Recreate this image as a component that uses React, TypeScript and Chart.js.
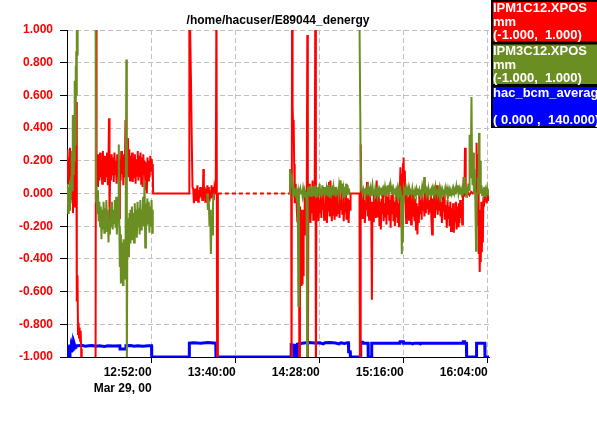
import React, { useEffect, useRef } from 'react';
import { Chart, registerables } from 'chart.js';

Chart.register(...registerables);

const chartTitle = '/home/hacuser/E89044_denergy';
const xTickValues = [52, 100, 148, 196, 244];
const xTickLabels = ['12:52:00', '13:40:00', '14:28:00', '15:16:00', '16:04:00'];
const xDateLabel = 'Mar 29, 00';
const yTickValues = [-1, -0.8, -0.6, -0.4, -0.2, 0, 0.2, 0.4, 0.6, 0.8, 1];
const legendNames = ['IPM1C12.XPOS', 'IPM3C12.XPOS', 'hac_bcm_average'];
const legendUnits = ['mm', 'mm', ''];
const legendRanges = ['(-1.000,  1.000)', '(-1.000,  1.000)', '( 0.000 ,  140.000)'];
const seriesColors = ['#ff0000', '#6b8e23', '#0000ff'];

// time in minutes after 12:00, value in mm
const ipm1Points: [number, number][] = [
  [3.6,0.12],[3.9,0.27],[4.3,0.06],[4.6,0.22],[5.0,0.1],[5.3,0.28],[5.7,0.05],[6.0,0.19],[6.4,-0.04],[6.7,0.24],[7.0,-0.12],[7.4,0.17],[7.7,-0.08],[8.0,0.21],[8.3,0.02],[8.6,0.15],[8.9,0.56],[9.1,0.1],
  [9.3,-0.66],[9.6,-0.5],[9.9,-0.86],[10.2,-0.79],[10.5,-0.88],[10.8,-0.82],[11.1,-0.9],[11.4,-0.84],[11.7,-0.95],[12.0,-1.3],
  [19.9,-1.3],[20.2,1.3],[20.5,0.15],
  [20.9,0.24],[21.3,0.04],[21.7,0.22],[22.1,0.08],[22.5,0.25],[22.9,0.1],[23.3,0.2],[23.7,0.06],[24.1,0.26],[24.5,0.12],[24.9,0.23],[25.3,0.07],[25.7,0.21],[26.1,0.1],[26.5,0.25],[26.9,0.05],[27.3,0.2],[27.6,0.46],[27.9,-0.15],[28.3,0.18],[28.7,0.08],[29.1,0.24],[29.5,0.11],[29.9,0.22],[30.3,0.07],[30.7,0.25],[31.1,0.12],[31.5,0.2],[31.9,0.06],[32.3,0.24],[32.7,0.1],[33.1,0.21],[33.4,-0.15],[33.8,0.2],[34.2,0.08],[34.6,0.26],[35.0,0.12],[35.4,0.22],[35.8,0.05],[36.2,0.24],[36.6,0.1],[37.0,0.45],[37.3,0.09],[37.6,0.33],[38.0,0.12],[38.4,0.34],[38.8,0.1],[39.2,0.27],[39.6,0.08],[40.0,0.23],[40.4,0.12],[40.8,0.25],[41.2,0.07],[41.6,0.22],[42.0,0.1],[42.4,0.24],[42.8,0.06],[43.2,0.21],[43.6,0.11],[44.0,0.26],[44.4,0.08],[44.8,0.23],[45.2,0.1],[45.6,0.25],[46.0,0.06],[46.4,0.22],[46.8,0.04],[47.2,0.24],[47.6,0.12],[48.0,0.2],[48.4,0.02],[48.8,0.19],[49.2,0.0],[49.6,0.22],[50.0,0.08],[50.4,0.2],[50.8,0.1],[51.2,0.23],[51.6,0.14],[52.0,0.21],[52.4,0.12],[52.6,0.18],
  [52.8,0.0],[73.4,0.0],
  [73.5,1.3],[74.4,0.71],[74.9,0.31],[75.3,0.04],[75.7,0.03],[76.1,-0.06],[76.5,0.02],[76.9,-0.04],[77.3,0.03],[77.7,-0.02],[78.1,0.05],[78.5,-0.05],[78.9,0.02],[79.3,-0.03],[79.7,0.04],[80.1,-0.02],[80.5,0.03],[80.9,-0.04],[81.3,0.02],[81.5,0.15],[81.8,-0.01],[82.2,0.04],[82.6,-0.05],[83.0,0.03],[83.4,-0.03],[83.8,0.05],[84.2,-0.02],[84.6,0.04],[85.0,-0.05],[85.4,0.02],[85.8,-0.03],[86.2,0.05],[86.6,-0.02],[87.0,0.04],[87.4,-0.04],[87.8,0.03],[88.2,0.0],[88.6,0.02],
  [89.0,1.3],[89.4,-1.3],[89.8,0.0],
  [131.7,0.0],
  [131.9,-1.3],[132.2,1.3],[132.5,0.53],[132.8,0.39],[133.1,0.45],[133.4,0.18],[133.7,-0.06],[134.0,0.06],[134.3,-0.05],[134.6,0.02],[134.9,-0.1],[135.2,-0.17],[135.5,-0.05],[135.8,-0.12],[136.1,-0.06],[136.4,-1.3],[136.7,-0.08],[137.0,-0.15],[137.3,-0.56],[137.6,-0.1],[137.9,-0.55],[138.2,-0.2],[138.5,-0.5],[138.8,-0.1],[139.1,-0.18],[139.4,0.02],[139.7,-0.25],[140.0,-0.05],[140.3,-0.15],[140.6,0.05],[140.9,0.97],[141.2,-1.3],[141.5,-0.05],
  [141.9,-0.15],[142.3,0.06],[142.7,-0.18],[143.1,-0.02],[143.5,-0.12],[143.9,0.08],[144.3,-0.16],[144.7,0.0],[145.1,-0.1],[145.5,1.3],[145.8,-1.3],[146.1,-0.05],
  [146.5,-0.14],[146.9,0.03],[147.3,-0.17],[147.7,-0.04],[148.1,-0.12],[148.5,0.02],[148.9,-0.15],[149.3,-0.03],[149.7,-0.1],[150.1,0.04],[150.5,-0.16],[150.9,-0.06],[151.3,-0.12],[151.7,0.01],[152.1,-0.18],[152.5,-0.02],[152.9,-0.11],[153.3,0.07],[153.7,-0.14],[154.1,0.08],[154.5,-0.05],[154.9,-0.17],[155.3,0.02],[155.7,-0.13],[156.1,-0.01],[156.5,-0.16],[156.9,0.04],[157.3,-0.09],[157.7,-0.14],[158.1,0.0],[158.5,-0.12],[158.9,0.03],[159.3,-0.15],[159.7,-0.04],[160.1,-0.1],[160.5,0.05],[160.9,-0.13],[161.3,-0.02],[161.7,-0.17],[162.1,-0.05],[162.5,-0.11],[162.9,0.02],[163.3,-0.16],[163.7,-0.03],[164.1,-0.12],[164.5,-0.18],[164.9,-0.04],[165.3,-0.1],
  [165.6,0.0],[170.7,0.0],[171.0,-1.3],[171.4,0.3],[171.8,-0.05],
  [172.2,-0.15],[172.6,0.02],[173.0,-0.12],[173.4,-0.04],[173.8,-0.18],[174.2,0.03],[174.6,-0.1],[175.0,0.07],[175.4,-0.14],[175.8,-0.02],[176.2,-0.16],[176.6,0.0],[177.0,-0.11],[177.4,-0.05],[177.8,-0.65],[178.1,-0.08],[178.5,-0.17],[178.9,0.01],[179.3,-0.13],[179.7,-0.03],[180.1,-0.15],[180.5,0.08],[180.9,-0.06],[181.3,-0.14],[181.7,0.02],[182.1,-0.2],[182.5,-0.05],[182.9,-0.22],[183.3,-0.03],[183.7,-0.12],[184.1,0.04],[184.5,-0.17],[184.9,-0.06],[185.3,-0.14],[185.7,0.0],[186.1,-0.19],[186.5,-0.02],[186.9,-0.13],[187.3,0.03],[187.7,-0.16],[188.1,-0.04],[188.5,-0.21],[188.9,-0.01],[189.3,-0.12],[189.7,0.02],[190.1,-0.17],[190.5,-0.05],[190.9,-0.2],[191.3,-0.02],[191.7,-0.14],[192.1,0.03],[192.5,-0.18],[192.9,-0.06],[193.3,-0.2],[193.7,0.0],
  [194.1,0.16],[194.5,-0.05],[194.8,0.12],[195.2,-0.02],[195.6,0.18],[195.9,0.22],[196.2,0.0],[196.6,0.14],[197.0,-0.06],
  [197.4,-0.18],[197.8,0.04],[198.2,-0.12],[198.6,-0.02],[199.0,-0.16],[199.4,0.03],[199.8,-0.1],[200.2,-0.19],[200.6,-0.01],[201.0,-0.14],[201.4,0.02],[201.8,-0.11],[202.2,-0.17],[202.6,-0.03],[203.0,-0.22],[203.4,-0.06],[203.8,-0.25],[204.2,-0.08],[204.6,-0.18],[205.0,0.01],[205.4,-0.12],[205.8,-0.04],[206.2,-0.16],[206.6,0.02],[207.0,-0.1],[207.4,-0.05],[207.8,-0.14],[208.2,0.03],[208.6,-0.12],[209.0,-0.02],[209.4,-0.09],[209.8,0.02],[210.2,-0.13],[210.6,-0.04],[211.0,-0.11],[211.4,0.03],[211.8,-0.16],[212.2,-0.25],[212.6,-0.03],[213.0,-0.12],[213.4,0.01],[213.8,-0.15],[214.2,-0.05],[214.6,-0.1],[215.0,0.05],[215.4,-0.13],[215.8,0.03],[216.2,-0.1],[216.6,-0.02],[217.0,-0.14],[217.4,-0.05],[217.8,-0.18],[218.2,-0.02],[218.6,-0.11],[219.0,0.02],[219.4,-0.16],[219.8,-0.07],[220.2,-0.12],[220.6,-0.21],[221.0,-0.04],[221.4,-0.15],[221.8,-0.08],[222.2,-0.2],[222.6,-0.05],[223.0,-0.23],[223.4,-0.09],[223.8,-0.19],[224.2,-0.06],[224.6,-0.24],[225.0,-0.1],[225.4,-0.17],[225.8,-0.05],[226.2,-0.22],[226.6,-0.08],[227.0,-0.2],[227.4,-0.06],[227.8,-0.18],[228.2,-0.04],[228.6,-0.15],[229.0,-0.07],[229.4,-0.19],[229.8,-0.05],
  [230.2,0.1],[230.6,-0.02],[231.0,0.28],[231.4,0.05],[231.8,0.0],
  [232.5,0.01],[233.5,-0.01],[234.5,0.01],[235.5,0.0],[236.5,0.02],[237.3,0.0],[237.6,0.31],[237.9,0.05],[238.2,-0.2],[238.5,0.24],[238.8,-0.37],[239.1,-0.1],[239.4,-0.48],[239.7,-0.17],[240.0,-0.42],[240.3,-0.05],[240.6,-0.36],[240.9,-0.12],[241.2,-0.3],[241.5,-0.02],[241.8,-0.08],[242.2,0.0],[242.6,-0.05],[243.0,-0.01],[243.4,-0.06],[243.8,0.0],[244.2,-0.04],[244.6,-0.01],
];

const ipm3Points: [number, number | null][] = [
  [3.6,-0.05],[3.9,0.06],[4.3,-0.12],[4.6,0.04],[5.0,-0.1],[5.3,0.08],[5.7,-0.06],[6.0,0.1],
  [6.3,0.26],[6.6,0.02],[6.9,0.48],[7.2,0.12],[7.5,0.4],[7.8,0.2],[8.0,0.69],[8.3,0.3],[8.5,0.78],[8.7,0.5],[8.9,0.87],[9.1,0.6],[9.3,1.0],[9.5,0.85],[9.7,1.3],
  [19.9,1.3],
  [20.2,-0.05],[20.5,0.05],[20.9,-0.12],[21.3,0.02],[21.7,-0.17],[22.1,-0.05],[22.5,-0.2],[22.9,-0.08],[23.3,-0.28],[23.7,-0.1],[24.1,-0.22],[24.5,-0.05],[24.9,-0.24],[25.3,-0.09],[25.7,-0.2],[26.1,-0.04],[26.5,-0.23],[26.9,-0.1],[27.3,-0.3],[27.7,-0.15],[28.1,-0.25],[28.5,-0.08],[28.9,-0.2],[29.3,-0.05],[29.7,-0.22],[30.1,-0.1],[30.5,-0.18],[30.9,-0.04],[31.3,-0.21],[31.7,-0.02],[32.1,-0.25],[32.5,-0.1],[32.9,-0.16],[33.2,0.3],[33.5,-0.2],[33.8,-0.45],[34.1,-0.25],[34.4,-0.55],[34.7,-0.3],[35.0,-0.5],[35.3,-0.35],[35.6,-0.56],[35.9,-0.28],[36.2,-0.48],[36.5,-0.3],[36.8,-0.52],[37.1,-0.25],[37.5,0.82],[37.8,-1.05],[38.1,-0.2],[38.4,-0.35],[38.7,-0.15],[39.0,-0.39],[39.3,-0.12],[39.6,-0.3],[39.9,-0.1],[40.3,-0.28],[40.7,-0.08],[41.1,-0.25],[41.5,-0.12],[41.9,-0.3],[42.3,-0.06],[42.7,-0.22],[43.1,-0.1],[43.5,-0.27],[43.9,-0.05],[44.3,-0.2],[44.7,-0.09],[45.1,-0.25],[45.5,-0.04],[45.9,-0.22],[46.3,-0.1],[46.7,-0.18],[47.1,-0.02],[47.5,-0.2],[47.9,0.08],[48.3,-0.33],[48.7,-0.06],[49.1,-0.2],[49.5,-0.03],[49.9,-0.18],[50.3,-0.05],[50.7,-0.24],[51.1,-0.08],[51.5,-0.2],[51.9,-0.04],[52.3,-0.24],[52.6,-0.1],
  [60,null],
  [83.6,0.0],[84.1,-0.1],[84.6,-0.04],[85.0,-0.2],[85.4,-0.1],[85.8,-0.37],[86.2,-0.14],[86.6,-0.25],[87.0,-0.06],[87.5,0.0],
  [100,null],
  [130.6,0.0],[131.0,0.15],[131.4,0.08],[131.8,0.12],[132.2,0.04],[132.6,0.02],[133.0,0.04],[133.4,-0.01],[133.8,0.03],[134.2,0.0],[134.6,0.02],[135.0,-0.01],[135.4,0.01],[135.8,-0.69],[136.1,0.02],[136.5,0.01],[136.9,0.03],[137.3,0.0],[137.7,0.02],[138.1,-0.01],[138.5,0.03],[138.9,0.0],[139.3,0.02],[139.7,-0.02],[140.1,0.01],[140.5,-0.06],[140.8,-1.05],[141.1,0.0],
  [141.5,0.04],[141.9,-0.01],[142.3,0.045],[142.7,-0.02],[143.1,0.03],[143.5,-0.02],[143.9,0.045],[144.3,-0.01],[144.7,0.04],[145.1,0.0],[145.5,0.05],[145.9,-0.02],[146.3,0.03],[146.7,-0.02],[147.1,0.04],[147.5,0.0],[147.9,0.06],[148.3,-0.01],[148.7,0.03],[149.1,-0.01],[149.5,0.05],[149.9,0.0],[150.3,0.03],[150.7,-0.02],[151.1,0.04],[151.5,0.0],[151.9,0.03],[152.3,-0.01],[152.7,0.05],[153.1,0.01],[153.5,0.03],[153.9,-0.02],[154.3,0.04],[154.7,0.0],[155.1,0.02],[155.5,-0.01],[155.9,0.04],[156.3,0.01],[156.7,0.03],[157.1,-0.02],[157.5,0.04],[157.9,0.0],[158.3,0.02],[158.7,-0.01],[159.1,0.05],[159.5,0.02],[159.9,0.08],[160.3,0.01],[160.7,0.06],[161.1,0.0],[161.5,0.03],[161.9,-0.02],[162.3,0.04],[162.7,0.0],[163.1,0.06],[163.5,-0.01],[163.9,0.05],[164.3,0.0],[164.7,0.03],[165.1,-0.01],
  [168,null],
  [170.5,1.3],[171.3,0.3],[171.7,0.02],[172.1,0.03],[172.5,0.0],[172.9,0.025],[173.3,0.005],[173.7,0.03],[174.1,-0.01],[174.5,0.02],[174.9,0.01],[175.3,0.035],[175.7,0.0],[176.1,0.025],[176.5,0.005],[176.9,0.03],[177.3,-0.01],[177.7,0.02],[178.1,0.05],[178.5,0.0],[178.9,0.025],[179.3,-0.005],[179.7,0.03],[180.1,0.005],[180.5,0.02],[180.9,-0.01],[181.3,0.03],[181.7,0.01],[182.1,0.025],[182.5,-0.005],[182.9,0.035],[183.3,0.0],[183.7,0.02],[184.1,-0.01],[184.5,0.025],[184.9,0.005],[185.3,0.04],[185.7,0.01],[186.1,0.025],[186.5,0.0],[186.9,0.05],[187.3,0.015],[187.7,0.04],[188.1,0.01],[188.5,0.05],[188.9,0.015],[189.3,0.03],[189.7,-0.005],[190.1,0.025],[190.5,0.0],[190.9,0.03],[191.3,-0.01],[191.7,0.02],[192.1,0.0],[192.5,0.03],[192.9,-0.01],[193.3,0.025],[193.7,0.0],[194.1,0.02],[194.5,-0.01],[194.9,-0.37],[195.2,-0.1],[195.5,-0.3],[195.8,-0.05],[196.1,0.02],[196.5,0.0],[196.9,0.025],[197.3,-0.005],[197.7,0.02],[198.1,0.0],[198.5,0.03],[198.9,-0.01],[199.3,0.025],[199.7,0.0],[200.1,0.02],[200.5,-0.005],[200.9,0.03],[201.3,0.0],[201.7,0.025],[202.1,-0.01],[202.5,0.02],[202.9,0.0],[203.3,0.025],[203.7,-0.005],[204.1,0.03],[204.5,0.0],[204.9,0.02],[205.3,-0.01],[205.7,0.025],[206.1,0.0],[206.5,0.04],[206.9,0.01],[207.3,0.03],[207.7,0.1],[208.1,0.0],[208.5,0.025],[208.9,-0.005],[209.3,0.02],[209.7,0.0],[210.1,0.03],[210.5,-0.005],[210.9,0.025],[211.3,0.0],[211.7,0.02],[212.1,-0.01],[212.5,0.025],[212.9,0.0],[213.3,0.03],[213.7,0.01],[214.1,0.04],[214.5,0.0],[214.9,0.025],[215.3,-0.005],[215.7,0.02],[216.1,0.0],[216.5,0.03],[216.9,-0.005],[217.3,0.025],[217.7,0.0],[218.1,0.02],[218.5,-0.01],[218.9,0.025],[219.3,0.0],[219.7,0.03],[220.1,-0.005],[220.5,0.02],[220.9,-0.01],[221.3,0.025],[221.7,0.0],[222.1,0.02],[222.5,-0.01],[222.9,0.01],[223.3,-0.005],[223.7,0.02],[224.1,-0.01],[224.5,0.025],[224.9,0.0],[225.3,0.02],[225.7,-0.005],[226.1,0.04],[226.5,0.01],[226.9,0.05],[227.3,0.0],[227.7,0.025],[228.1,-0.005],[228.5,0.02],[228.9,0.0],[229.3,0.025],[229.7,-0.01],
  [230.1,0.04],[230.5,0.1],[230.9,0.0],[231.3,0.05],[231.7,-0.02],[232.1,0.04],[232.5,0.0],[232.9,0.06],[233.3,0.02],[233.6,0.36],[234.0,0.1],[234.4,0.3],[234.7,0.59],[235.0,0.2],[235.3,0.05],[235.7,0.25],[236.1,0.0],[236.5,0.15],[236.9,-0.05],[237.3,-0.35],[237.6,-0.1],[237.9,0.0],[238.3,0.1],[238.7,0.02],[239.0,0.37],[239.3,0.1],[239.7,0.2],[240.0,0.0],[240.4,0.05],[240.8,-0.01],[241.2,0.03],[241.6,0.0],[242.0,0.04],[242.4,-0.02],[242.8,0.02],[243.2,0.0],[243.6,0.03],[244.0,-0.01],[244.4,0.02],
];

const bcmPoints: [number, number][] = [
  [3.8,2.5],[4.1,1.9],[4.4,3.0],[4.7,2.2],[5.0,3.2],[5.3,2.4],[5.6,3.4],[5.9,2.6],[6.2,3.8],[6.5,3.0],[6.8,4.2],[7.1,3.4],[7.4,5.0],[7.7,4.0],[8.0,5.0],[8.3,4.2],[8.6,4.8],
  [10,4.8],[12,5.0],[14,4.6],[16,4.8],[18,4.9],[20,4.6],[22,4.8],[25,4.5],[27,4.8],[30,4.7],[33.8,4.8],[33.9,3.4],[37.2,3.4],[37.3,4.8],[40,4.9],[42,4.6],[44,4.8],[47,4.6],[50,4.8],[51.9,4.8],[52.0,0],
  [73.4,0],[73.5,5.9],[76,6.1],[80,5.9],[84,6.2],[88.6,5.9],[88.7,0],
  [131.6,0],[131.7,5.2],[133.5,5.0],[133.6,0],[135.1,0],[135.2,5.5],[137,5.8],[139,6.0],[142,6.2],[145,6.0],[148,6.1],[150,5.6],[151,6.1],[154,6.2],[157,6.0],[159,5.6],[160,6.1],[162,5.8],[164,6.1],[164.4,6.1],[164.5,2.3],[165.4,2.3],[165.5,0],
  [171.3,0],[171.4,6.5],[172.6,6.3],[172.7,5.9],[175.6,5.9],[175.7,0],[177.6,0],[177.7,5.9],[182,5.9],[188,5.9],[193.8,5.9],[193.9,6.5],[195.8,6.5],[195.9,5.9],[200,5.9],[201,5.6],[202,5.9],[205,5.9],[205.5,5.6],[206,5.9],[215,5.9],[229.9,5.9],[230.0,6.5],[230.8,6.5],[230.9,5.9],[231.8,5.9],[231.9,0],
  [237.5,0],[237.6,5.9],[242.3,5.9],[242.4,0],[244.7,0],
];

const FONT_FAMILY = "'Liberation Sans', Arial, Helvetica, sans-serif";

const decoPlugin = {
  id: 'deco',
  afterDraw(chart: any) {
    const ctx = chart.ctx as CanvasRenderingContext2D;
    const area = chart.chartArea;
    ctx.save();
    ctx.font = `bold 12px ${FONT_FAMILY}`;
    ctx.fillStyle = '#000';
    ctx.textAlign = 'center';
    ctx.textBaseline = 'alphabetic';
    ctx.fillText(chartTitle, (area.left + area.right) / 2, 24);

    const tops = [1, 43.5, 86];
    const heights = [41.5, 41.5, 41];
    const boxLeft = 492;
    ctx.textAlign = 'left';
    ctx.font = `bold 13px ${FONT_FAMILY}`;
    for (let i = 0; i < legendNames.length; i++) {
      const top = tops[i];
      ctx.fillStyle = seriesColors[i];
      ctx.fillRect(boxLeft, top, 120, heights[i]);
      ctx.strokeStyle = '#000';
      ctx.lineWidth = 2;
      ctx.strokeRect(boxLeft, top, 120, heights[i]);
      ctx.fillStyle = '#fff';
      ctx.fillText(legendNames[i], boxLeft + 1, top + 11);
      if (legendUnits[i]) ctx.fillText(legendUnits[i], boxLeft + 1, top + 25);
      ctx.fillText(legendRanges[i], boxLeft + 1, top + 38);
    }
    ctx.restore();
  },
};

export default function App() {
  const ref = useRef<HTMLCanvasElement | null>(null);

  useEffect(() => {
    if (!ref.current) return;
    const toXY = (arr: [number, number | null][]) => arr.map(([x, y]) => ({ x, y }));
    const tickFont = { family: FONT_FAMILY, size: 12, weight: 'bold' as const, lineHeight: 1.3 };
    const chart = new Chart(ref.current, {
      type: 'line',
      data: {
        datasets: [
          {
            label: legendNames[1],
            data: toXY(ipm3Points) as any,
            borderColor: seriesColors[1],
            borderWidth: 2,
            yAxisID: 'y',
            spanGaps: false,
          },
          {
            label: legendNames[0],
            data: toXY(ipm1Points) as any,
            borderColor: seriesColors[0],
            borderWidth: 2,
            yAxisID: 'y',
            segment: {
              borderDash: (c: any) => (c.p1.parsed.x - c.p0.parsed.x > 30 ? [4, 3] : undefined),
            },
          },
          {
            label: legendNames[2],
            data: toXY(bcmPoints) as any,
            borderColor: seriesColors[2],
            borderWidth: 3,
            yAxisID: 'y2',
          },
        ],
      },
      options: {
        responsive: false,
        animation: false,
        events: [],
        elements: { point: { radius: 0, hoverRadius: 0 }, line: { tension: 0, fill: false } },
        layout: { padding: { left: 0, right: 108, top: 30, bottom: 0 } },
        plugins: { legend: { display: false }, title: { display: false }, tooltip: { enabled: false } },
        scales: {
          x: {
            type: 'linear',
            position: 'bottom',
            min: 3.6,
            max: 244.7,
            afterBuildTicks: (s: any) => {
              s.ticks = xTickValues.map((v) => ({ value: v }));
            },
            afterFit: (s: any) => {
              s.height = 68;
            },
            ticks: {
              align: 'end',
              maxRotation: 0,
              autoSkip: false,
              padding: 2,
              color: '#000',
              font: tickFont,
              callback: (v: any) => {
                const i = xTickValues.indexOf(Number(v));
                if (i < 0) return '';
                return i === 0 ? [xTickLabels[i], xDateLabel] : xTickLabels[i];
              },
            },
            grid: { color: '#c0c0c0', lineWidth: 1, tickColor: '#000', tickLength: 6, tickWidth: 1, tickBorderDash: [] },
            border: { display: true, color: '#000', width: 1, dash: [5, 3] },
          },
          y: {
            type: 'linear',
            position: 'left',
            min: -1,
            max: 1,
            afterBuildTicks: (s: any) => {
              s.ticks = yTickValues.map((v) => ({ value: v }));
            },
            afterFit: (s: any) => {
              s.width = 67;
            },
            ticks: {
              padding: 7,
              color: '#ff0000',
              font: tickFont,
              callback: (v: any) => Number(v).toFixed(3),
            },
            grid: { color: '#c0c0c0', lineWidth: 1, tickColor: '#000', tickLength: 7, tickWidth: 1, tickBorderDash: [] },
            border: { display: true, color: '#000', width: 1, dash: [5, 3] },
          },
          y2: { type: 'linear', display: false, min: 0, max: 140 },
        },
      } as any,
      plugins: [decoPlugin],
    });
    return () => chart.destroy();
  }, []);

  return (
    <div style={{ position: 'fixed', left: 0, top: 0, width: 597, height: 425, background: '#fff' }}>
      <canvas ref={ref} width={597} height={425} style={{ display: 'block', width: 597, height: 425 }} />
    </div>
  );
}
